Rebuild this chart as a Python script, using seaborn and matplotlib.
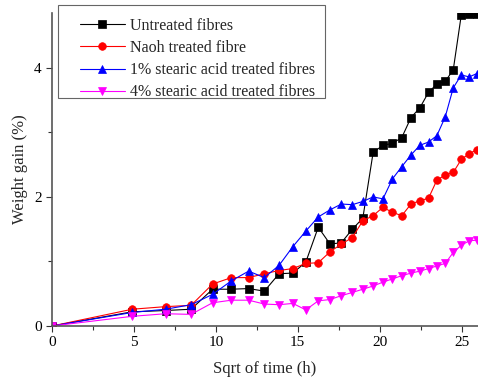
import matplotlib
matplotlib.use("Agg")
import matplotlib.pyplot as plt
import seaborn as sns
import pandas as pd
from matplotlib.ticker import MultipleLocator
from matplotlib.patches import Rectangle

sns.set_style("ticks")
plt.rcParams['font.family'] = ['Liberation Serif', 'DejaVu Serif']

sqrt_time = [0, 4.90, 6.93, 8.49, 9.80, 10.95, 12.00, 12.96, 13.86, 14.70,
             15.49, 16.25, 16.97, 17.66, 18.33, 18.97, 19.60, 20.20, 20.78,
             21.35, 21.91, 22.45, 22.98, 23.49, 24.00, 24.49, 24.98, 25.46, 25.92]

untreated = [0, 0.22, 0.24, 0.26, 0.57, 0.57, 0.58, 0.54, 0.81, 0.82,
             0.99, 1.53, 1.27, 1.29, 1.50, 1.67, 2.69, 2.80, 2.83,
             2.92, 3.23, 3.38, 3.62, 3.75, 3.79, 3.97, 4.82, 4.83, 4.83]
naoh = [0, 0.26, 0.30, 0.32, 0.65, 0.75, 0.75, 0.81, 0.86, 0.89,
        0.97, 0.98, 1.15, 1.27, 1.37, 1.63, 1.71, 1.84, 1.76,
        1.71, 1.89, 1.94, 1.98, 2.26, 2.34, 2.38, 2.58, 2.67, 2.73]
stearic1 = [0, 0.21, 0.26, 0.33, 0.49, 0.70, 0.85, 0.75, 0.94, 1.23,
            1.47, 1.69, 1.80, 1.89, 1.88, 1.93, 2.00, 1.97, 2.28,
            2.47, 2.65, 2.80, 2.85, 2.95, 3.24, 3.69, 3.89, 3.86, 3.91]
stearic4 = [0, 0.15, 0.19, 0.18, 0.36, 0.40, 0.40, 0.34, 0.33, 0.35,
            0.25, 0.39, 0.41, 0.47, 0.52, 0.57, 0.62, 0.68, 0.73,
            0.78, 0.82, 0.85, 0.89, 0.93, 0.97, 1.14, 1.25, 1.32, 1.33]

labels = ["Untreated fibres", "Naoh treated fibre",
          "1% stearic acid treated fibres", "4% stearic acid treated fibres"]
series = [untreated, naoh, stearic1, stearic4]
colors = ["black", "red", "blue", "magenta"]
markers = ["s", "o", "^", "v"]

W, H = 478, 385
fig = plt.figure(figsize=(W/100, H/100), dpi=100)
ax = fig.add_axes([52/W, 1-326/H, 1-52/W, (326-13)/H])

for lab, vals, c, m in zip(labels, series, colors, markers):
    df = pd.DataFrame({"x": sqrt_time, "y": vals})
    sns.lineplot(data=df, x="x", y="y", ax=ax, color=c, marker=m,
                 markersize=5.5, markeredgecolor=c, markeredgewidth=0.5,
                 linewidth=0.8, label=lab)

ax.set_xlim(0, 26)
ax.set_ylim(0, 4.85)
ax.xaxis.set_major_locator(MultipleLocator(5))
ax.xaxis.set_minor_locator(MultipleLocator(2.5))
ax.yaxis.set_major_locator(MultipleLocator(2))
ax.yaxis.set_minor_locator(MultipleLocator(1))
ax.tick_params(axis="both", which="major", length=4, width=0.8, labelsize=11,
               colors="#333333", labelcolor="black")
ax.tick_params(axis="both", which="minor", length=3, width=0.8, colors="#333333")
for s in ["top", "right"]:
    ax.spines[s].set_visible(False)
for s in ["left", "bottom"]:
    ax.spines[s].set_color("#555555")
    ax.spines[s].set_linewidth(1.2)

ax.set_xlabel("Sqrt of time (h)", fontsize=12, labelpad=8)
ax.set_ylabel("Weight gain (%)", fontsize=12)

leg = ax.legend(loc="upper left", bbox_to_anchor=(80/W, 1-18/H),
                bbox_transform=fig.transFigure, borderaxespad=0,
                fontsize=11.5, frameon=False, handlelength=2.8,
                labelspacing=0.38, borderpad=0, handletextpad=0.3)
leg.set_zorder(6)
ax.add_patch(Rectangle((58/W, 1-98/H), (325-58)/W, (98-5)/H,
                       transform=fig.transFigure, fill=True, clip_on=False,
                       facecolor="white", edgecolor="#666666",
                       linewidth=0.8, zorder=5))

fig.savefig("out.png", dpi=100)
